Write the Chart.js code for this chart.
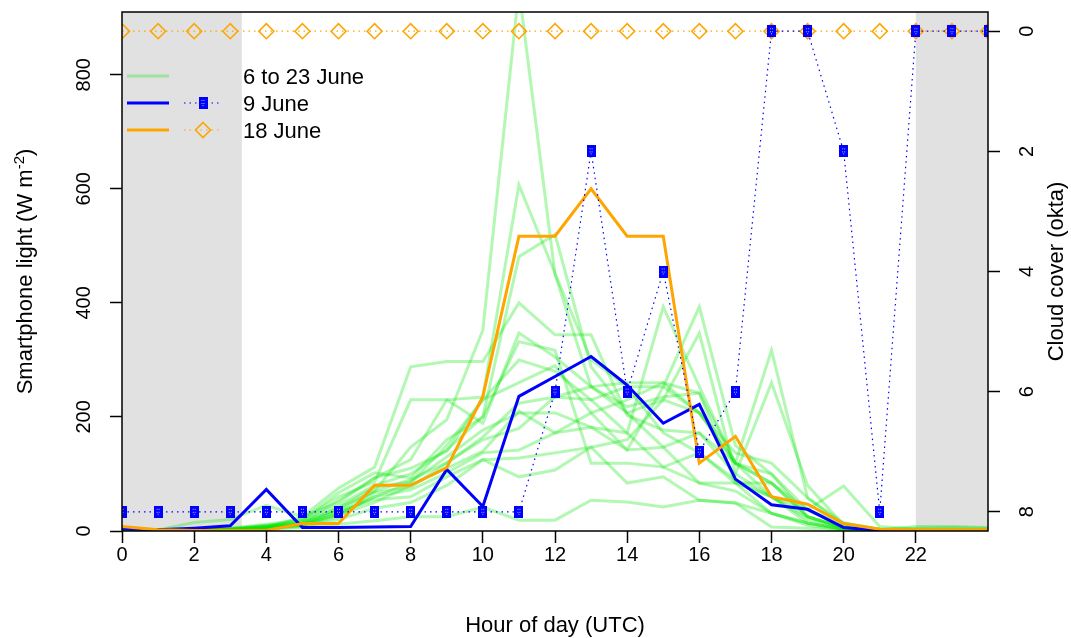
<!DOCTYPE html>
<html>
<head>
<meta charset="utf-8">
<script src="https://cdn.jsdelivr.net/npm/chart.js@4.4.1/dist/chart.umd.min.js"></script>
<style>
  html, body { margin: 0; padding: 0; background: #fff; }
  #wrap { width: 1071px; height: 638px; }
</style>
</head>
<body>
<div id="wrap"><canvas id="myChart" width="1071" height="638"></canvas></div>
<script>
// hour of day (UTC)
var hours = [0,1,2,3,4,5,6,7,8,9,10,11,12,13,14,15,16,17,18,19,20,21,22,23,24];

// smartphone light (W m-2)
var light9June  = [4,2,5,9,73,6,6,7,8,108,43,236,271,306,256,189,222,91,46,38,6,1,1,1,1];
var light18June = [8,2,1,1,1,13,13,80,80,111,236,517,517,600,517,517,119,166,60,47,13,3,2,2,2];

// other days, 6 to 23 June
var otherDays = [
  [3,1,2,3,8,12,40,70,147,195,352,950,450,253,218,235,242,119,84,25,5,2,1,1,1],
  [2,1,1,2,5,15,54,93,125,230,235,607,452,300,253,172,137,84,31,14,3,1,1,1,1],
  [4,2,3,5,12,20,67,102,93,160,200,481,520,288,207,147,84,70,31,10,2,1,1,1,1],
  [2,1,1,2,6,25,75,112,288,297,297,400,344,344,203,177,172,100,60,25,5,2,1,1,1],
  [1,1,1,2,4,10,25,67,77,119,165,224,235,230,172,393,253,119,60,14,3,1,1,1,1],
  [2,1,2,4,10,15,40,77,86,130,177,207,207,182,142,253,393,150,100,37,7,2,1,1,1],
  [1,1,1,2,5,10,30,60,72,102,137,142,172,207,230,260,207,119,317,58,14,3,2,2,2],
  [1,1,2,3,7,12,35,55,60,95,125,128,137,147,160,230,347,100,260,80,10,2,1,1,1],
  [1,1,1,2,3,6,12,18,25,25,42,19,19,54,51,42,54,49,7,5,2,1,1,1,1],
  [3,2,3,4,9,20,60,86,230,230,189,347,305,253,260,260,242,84,84,25,6,2,1,1,1],
  [2,1,1,3,8,18,45,80,100,142,200,332,317,119,119,112,84,84,60,37,79,8,3,2,2],
  [1,1,1,2,4,8,20,40,50,80,125,95,107,147,84,95,54,49,31,14,3,1,1,1,1],
  [2,1,2,3,8,14,35,70,90,120,160,180,235,253,207,230,207,137,119,58,10,3,5,6,5],
  [1,1,1,2,5,12,30,60,85,150,230,260,290,207,142,147,172,119,100,25,7,2,8,8,6],
  [2,2,15,20,45,25,50,93,110,140,230,300,280,230,253,253,207,119,84,37,14,3,2,2,1],
  [1,1,1,2,6,10,28,50,80,110,140,210,172,182,172,112,137,90,60,20,5,2,1,1,1]
];

// cloud cover (okta)
var cloud9June  = [8,8,8,8,8,8,8,8,8,8,8,8,6,2,6,4,7,6,0,0,2,8,0,0,0];
var cloud18June = [0,0,0,0,0,0,0,0,0,0,0,0,0,0,0,0,0,0,0,0,0,0,0,0,0];

// ticks and night (grey) periods
var xTicks = [0,2,4,6,8,10,12,14,16,18,20,22];
var lightTicks = [0,200,400,600,800];
var cloudTicks = [0,2,4,6,8];
var nightBands = [[0, 3.32], [22, 24]];

var legendLabels = ['6 to 23 June', '9 June', '18 June'];

var GREEN = 'rgba(0, 230, 0, 0.3)';
var BLUE = '#0000ff';
var ORANGE = '#ffa500';
var FONT = '"Liberation Sans", Arial, Helvetica, sans-serif';

function pts(arr) {
  return arr.map(function (v, i) { return { x: hours[i], y: v }; });
}

// blue square marker
var sq = document.createElement('canvas');
sq.width = 9; sq.height = 12;
var sctx = sq.getContext('2d');
sctx.fillStyle = BLUE;
sctx.fillRect(0, 0, 9, 12);
sctx.fillStyle = 'rgba(200,200,255,0.9)';
[[3,3],[5,3],[3,6],[5,6],[4,8]].forEach(function (p) { sctx.fillRect(p[0], p[1], 1, 1); });

var datasets = [];

datasets.push({
  label: 'cloud 9 June', data: pts(cloud9June), yAxisID: 'y2', order: 0,
  borderColor: BLUE, borderWidth: 1.2, borderDash: [1.5, 4],
  pointStyle: sq, pointRadius: 6, clip: 0
});
datasets.push({
  label: 'cloud 18 June', data: pts(cloud18June), yAxisID: 'y2', order: 1,
  borderColor: ORANGE, borderWidth: 1.2, borderDash: [1.5, 4],
  pointStyle: 'rectRot', pointRadius: 7.5, pointBorderWidth: 1.6,
  pointBackgroundColor: 'rgba(0,0,0,0)', pointBorderColor: ORANGE, clip: 0
});
datasets.push({
  label: '18 June', data: pts(light18June), yAxisID: 'y', order: 2,
  borderColor: ORANGE, borderWidth: 3, pointRadius: 0, clip: 0
});
datasets.push({
  label: '9 June', data: pts(light9June), yAxisID: 'y', order: 3,
  borderColor: BLUE, borderWidth: 3, pointRadius: 0, clip: 0
});
otherDays.forEach(function (d, i) {
  datasets.push({
    label: 'day ' + i, data: pts(d), yAxisID: 'y', order: 4,
    borderColor: GREEN, borderWidth: 3, pointRadius: 0, clip: 0
  });
});

var nightPlugin = {
  id: 'night',
  beforeDatasetsDraw: function (chart) {
    var ctx = chart.ctx, a = chart.chartArea, x = chart.scales.x;
    ctx.save();
    ctx.fillStyle = '#e1e1e1';
    nightBands.forEach(function (b) {
      var x0 = x.getPixelForValue(b[0]), x1 = x.getPixelForValue(b[1]);
      ctx.fillRect(x0, a.top, x1 - x0, a.bottom - a.top);
    });
    ctx.restore();
  }
};

var framePlugin = {
  id: 'frame',
  afterDraw: function (chart) {
    var ctx = chart.ctx, a = chart.chartArea;
    var y = chart.scales.y, y2 = chart.scales.y2;
    ctx.save();
    ctx.strokeStyle = '#000';
    ctx.lineWidth = 1.5;
    ctx.strokeRect(a.left, a.top, a.right - a.left, a.bottom - a.top);

    // rotated tick labels
    ctx.fillStyle = '#000';
    ctx.font = '20px ' + FONT;
    ctx.textAlign = 'center';
    ctx.textBaseline = 'middle';
    lightTicks.forEach(function (v) {
      ctx.save();
      ctx.translate(84, y.getPixelForValue(v));
      ctx.rotate(-Math.PI / 2);
      ctx.fillText(String(v), 0, 0);
      ctx.restore();
    });
    cloudTicks.forEach(function (v) {
      ctx.save();
      ctx.translate(1027, y2.getPixelForValue(v));
      ctx.rotate(-Math.PI / 2);
      ctx.fillText(String(v), 0, 0);
      ctx.restore();
    });

    // axis titles
    var midY = (a.top + a.bottom) / 2;
    ctx.font = '22px ' + FONT;
    ctx.fillText('Hour of day (UTC)', (a.left + a.right) / 2, 626);

    ctx.save();
    ctx.translate(1057, midY);
    ctx.rotate(-Math.PI / 2);
    ctx.fillText('Cloud cover (okta)', 0, 0);
    ctx.restore();

    var base = 'Smartphone light (W m', sup = '-2', end = ')';
    ctx.font = '22px ' + FONT;
    var wb = ctx.measureText(base).width, we = ctx.measureText(end).width;
    ctx.font = '15px ' + FONT;
    var ws = ctx.measureText(sup).width;
    var tot = wb + ws + we;
    ctx.save();
    ctx.translate(24, midY);
    ctx.rotate(-Math.PI / 2);
    ctx.textAlign = 'left';
    ctx.textBaseline = 'alphabetic';
    ctx.font = '22px ' + FONT;
    ctx.fillText(base, -tot / 2, 8);
    ctx.font = '15px ' + FONT;
    ctx.fillText(sup, -tot / 2 + wb, 0);
    ctx.font = '22px ' + FONT;
    ctx.fillText(end, -tot / 2 + wb + ws, 8);
    ctx.restore();

    // legend
    var rows = [84, 111, 138];
    var lineY = [76, 103, 130];
    var cols = [GREEN, BLUE, ORANGE];
    for (var i = 0; i < 3; i++) {
      ctx.strokeStyle = cols[i];
      ctx.lineWidth = 3;
      ctx.setLineDash([]);
      ctx.beginPath();
      ctx.moveTo(127, lineY[i]);
      ctx.lineTo(169, lineY[i]);
      ctx.stroke();
      if (i > 0) {
        ctx.lineWidth = 1.2;
        ctx.setLineDash([1.5, 4]);
        ctx.beginPath();
        ctx.moveTo(184, lineY[i]);
        ctx.lineTo(222, lineY[i]);
        ctx.stroke();
        ctx.setLineDash([]);
      }
      ctx.fillStyle = '#000';
      ctx.font = '22px ' + FONT;
      ctx.textAlign = 'left';
      ctx.textBaseline = 'alphabetic';
      ctx.fillText(legendLabels[i], 243, rows[i]);
    }
    ctx.drawImage(sq, 203 - 4.5, 103 - 6);
    ctx.strokeStyle = ORANGE;
    ctx.lineWidth = 1.6;
    ctx.beginPath();
    ctx.moveTo(203, 130 - 7.5);
    ctx.lineTo(210.5, 130);
    ctx.lineTo(203, 130 + 7.5);
    ctx.lineTo(195.5, 130);
    ctx.closePath();
    ctx.stroke();
    ctx.restore();
  }
};

var tickGrid = {
  display: true, drawOnChartArea: false, drawTicks: true,
  tickLength: 12, tickWidth: 1.5, tickColor: '#000', color: '#000'
};

var ctx = document.getElementById('myChart').getContext('2d');
var myChart = new Chart(ctx, {
  type: 'line',
  data: { datasets: datasets },
  options: {
    responsive: false,
    animation: false,
    devicePixelRatio: 1,
    layout: { padding: { top: 12, left: 0, right: 0, bottom: 0 } },
    elements: { line: { tension: 0 } },
    plugins: { legend: { display: false }, tooltip: { enabled: false } },
    scales: {
      x: {
        type: 'linear', position: 'bottom', min: 0, max: 24,
        grid: tickGrid, border: { display: false },
        afterBuildTicks: function (s) { s.ticks = xTicks.map(function (v) { return { value: v }; }); },
        afterFit: function (s) { s.height = 107; },
        ticks: { color: '#000', font: { size: 20, family: FONT }, padding: 0, maxRotation: 0, autoSkip: false }
      },
      y: {
        type: 'linear', position: 'left', min: 0, max: 910,
        grid: tickGrid, border: { display: false },
        afterBuildTicks: function (s) { s.ticks = lightTicks.map(function (v) { return { value: v }; }); },
        afterFit: function (s) { s.width = 122; },
        ticks: { display: false }
      },
      y2: {
        type: 'linear', position: 'right', min: -0.32, max: 8.32, reverse: true,
        grid: tickGrid, border: { display: false },
        afterBuildTicks: function (s) { s.ticks = cloudTicks.map(function (v) { return { value: v }; }); },
        afterFit: function (s) { s.width = 83; },
        ticks: { display: false }
      }
    }
  },
  plugins: [nightPlugin, framePlugin]
});
</script>
</body>
</html>
